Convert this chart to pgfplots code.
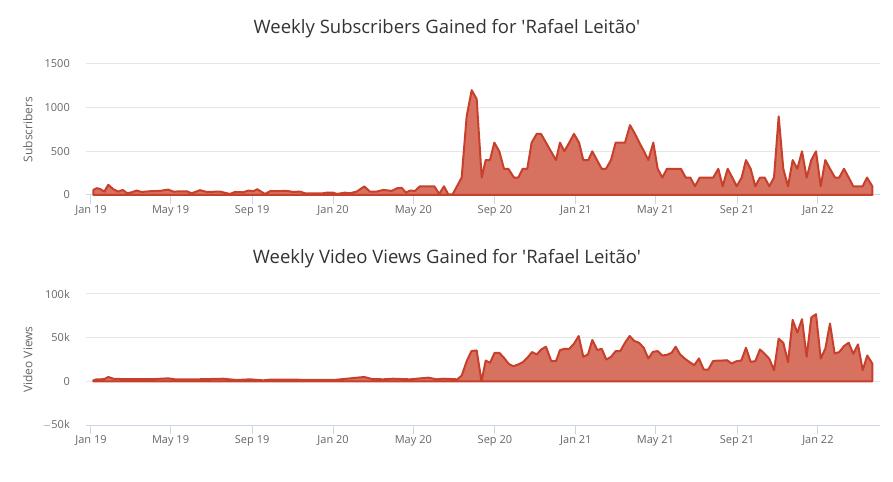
\documentclass[border=0pt]{standalone}
\usepackage{pgfplots}
\pgfplotsset{compat=1.18}
\usepackage{pgfplotstable}
\usepackage{fontspec}
\setmainfont{Open Sans}
\newfontfamily\plainos{Open Sans}
\definecolor{linecol}{RGB}{199,64,44}
\definecolor{fillcol}{RGB}{215,113,96}
\definecolor{gridcol}{RGB}{230,230,230}
\definecolor{axiscol}{RGB}{204,214,235}
\definecolor{labcol}{RGB}{102,102,102}
\definecolor{titcol}{RGB}{51,51,51}

% x = days since 1 Jan 2019, y = subscribers gained
\pgfplotstableread{
d v
3.5 58
8.6 78
13.6 70
20.1 39
26.1 117
33.6 66
41.2 39
47.8 58
54.7 20
61.4 31
68.9 51
76.4 35
89 43
104 47
116.5 62
124.1 39
144.3 43
151.8 20
164.3 55
174.4 35
194.5 39
209.6 12
217.1 35
229.6 31
237.2 51
244.7 43
250.7 66
262.3 12
269.9 43
295.1 47
305 35
315.1 39
322.6 20
350.2 20
355.4 27
365.3 27
370.4 12
383 27
390.5 20
400.6 39
412.1 98
420.6 39
430.7 39
440.7 58
453.4 47
461.8 78
468.4 82
474.9 27
481 51
488.5 47
496 100
517.6 100
525.1 12
532.2 100
538.7 8
545.3 8
558.9 200
566.4 900
574 1200
581.5 1100
589.1 200
595.1 400
601.6 400
608.1 600
615.6 500
622.7 300
629.2 300
637.8 200
644.2 200
650.9 300
657.8 300
664.4 600
672 700
678.5 700
686 600
693.5 500
701.1 400
707.1 600
713.6 500
721.1 600
728.2 700
735.8 600
742.3 400
749.8 400
755.8 500
762.9 400
770 300
776.5 300
784 400
791.1 600
798.6 600
805.1 600
812.7 800
820.2 700
826.7 600
833.8 500
840.3 400
847.8 600
854.4 300
861.4 200
868.4 300
875.5 300
883.1 300
889.5 300
896.6 200
903.6 200
910.7 100
917.7 200
924.7 200
931.8 200
938.2 200
945.8 300
952.4 100
959.9 300
966.9 200
973.5 100
981.1 200
987.5 400
994.6 300
1001.6 100
1008.6 200
1015.7 200
1022.7 100
1029.8 200
1036.8 900
1043.8 300
1050.9 100
1057.9 400
1064.9 300
1072 500
1079 200
1086 400
1093.1 500
1100.2 100
1107.1 400
1114.2 300
1121.7 200
1128.2 200
1135.3 300
1142.4 200
1149.3 100
1156.4 100
1163.5 100
1170 200
1178 100
}\subs

% x = days since 1 Jan 2019, y = video views gained
\pgfplotstableread{
d v
3.5 1100
8.6 2300
13.6 2300
20.1 2500
26.1 5000
33.6 3000
41.2 2700
60 2500
90 2400
116.5 3400
126.6 2300
160 2300
199 3000
219.7 1500
239.7 2300
259.8 1100
269.9 2000
300 2000
330 1600
370 1800
412.1 5000
423.2 2700
440.7 2300
455.3 3000
481 2300
508.5 4200
521.2 2300
531.2 3000
552.3 2300
558.9 6500
566.4 23000
573.6 34600
581.5 35400
588.8 0
595.1 23800
601.6 21200
608.6 32700
615.6 32700
622.7 26900
629.8 20000
636.7 17300
643.8 19200
650.9 21900
657.8 26900
664.9 33500
672 30800
678.9 36500
686 39600
694 23100
701.1 23100
707.1 35800
714.2 37300
721.1 37300
728.2 43100
735.3 51900
742.3 28100
749.3 30800
755.8 47300
763.4 35800
770 37300
777 25000
784 28000
791.1 34600
798 34600
805.1 44200
812.2 51900
819.1 46200
826.2 44200
833.3 38500
840.3 26200
847.3 33800
854.4 34600
861.4 29600
868.4 30400
875.5 32700
881.5 39600
888.2 30800
895.6 25800
902.7 21900
909.6 18500
916.7 26200
923.8 13500
930.7 13500
937.8 23100
944.9 23800
951.8 23800
958.9 24200
966 20400
973.5 23100
980.5 23800
987.5 38500
994.6 22300
1001.6 23100
1008.6 36500
1015.7 31500
1022.7 25800
1029.8 12700
1036.8 48800
1043.8 44200
1050.9 21900
1057.9 70400
1064.9 55800
1072 71200
1079 28100
1086 73100
1093.1 76900
1100.2 26200
1107.1 37300
1114.2 66200
1121.2 31900
1128.2 33500
1135.3 40400
1142.4 44200
1149.3 31500
1156.4 42300
1163.5 12700
1170.4 29600
1178 20400
}\views

\pgfplotsset{
  mystyle/.style={
    scale only axis,
    width=794bp, height=131bp,
    anchor=south west,
    xmin=-7.5, xmax=1189.6,
    xtick={0,120,243,365,486,609,731,851,974,1096},
    xticklabels={Jan 19,May 19,Sep 19,Jan 20,May 20,Sep 20,Jan 21,May 21,Sep 21,Jan 22},
    axis x line=bottom,
    axis y line=left,
    x axis line style={draw=axiscol,line width=1bp,-},
    y axis line style={draw=none},
    tick align=outside,
    xtick style={draw=axiscol,line width=1bp},
    major tick length=9bp,
    ytick style={draw=none},
    ymajorgrids,
    grid style={draw=gridcol,line width=1bp},
    scaled y ticks=false,
    /pgf/number format/1000 sep={},
    tick label style={font=\fontsize{11bp}{13bp}\selectfont,text=labcol},
    xticklabel style={anchor=center,yshift=-7bp,inner sep=0pt},
    yticklabel style={anchor=east,inner sep=0pt,xshift=-7bp},
    /pgf/number format/assume math mode=true,
    every axis y label/.style={at={(axis description cs:0,0.5)},rotate=90,anchor=center,yshift=58bp,font=\fontsize{12bp}{14bp}\selectfont,text=labcol},
    every axis title/.style={at={(axis description cs:0.5,1)},anchor=center,xshift=-36bp,yshift=35bp,font=\plainos\fontsize{18.5bp}{22bp}\selectfont,text=titcol},
    clip=false,
  },
  areastyle/.style={draw=linecol,line width=2bp,line join=round,fill=fillcol},
}

\begin{document}
\begin{tikzpicture}
\path[use as bounding box] (0,0) rectangle (893bp,482bp);
\begin{axis}[mystyle,
  at={(86bp,287bp)},
  ymin=0, ymax=1500,
  ytick={0,500,1000,1500},
  ylabel={Subscribers},
  title={Weekly Subscribers Gained for 'Rafael Leitão'},
]
\addplot[areastyle] table[x=d,y=v]{\subs} \closedcycle;
\end{axis}
\begin{axis}[mystyle,
  at={(86bp,57bp)},
  ymin=-50000, ymax=100000,
  ytick={-50000,0,50000,100000},
  yticklabels={$-$50k,0,50k,100k},
  ylabel={Video Views},
  title={Weekly Video Views Gained for 'Rafael Leitão'},
]
\addplot[areastyle] table[x=d,y=v]{\views} \closedcycle;
\end{axis}
\end{tikzpicture}
\end{document}
